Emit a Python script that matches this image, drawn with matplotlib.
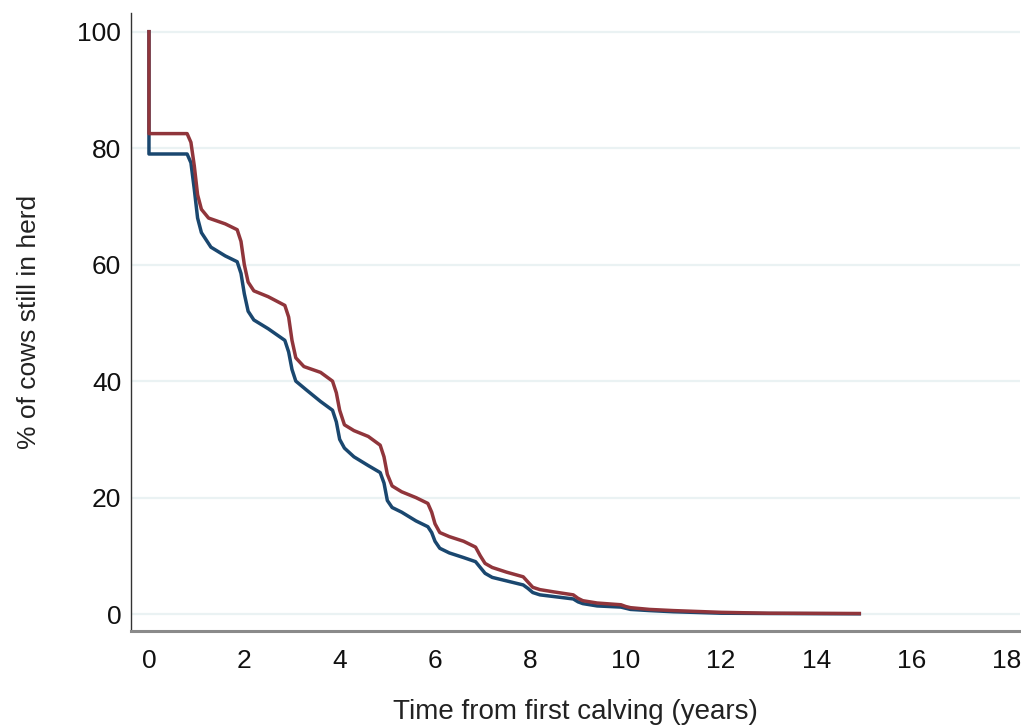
import matplotlib
matplotlib.use("Agg")
import matplotlib.pyplot as plt

plt.rcParams['font.family'] = ['Liberation Sans', 'DejaVu Sans']

# Survival curves (time in years, % still in herd)
red_t = [0, 0, 0.8, 0.88, 0.95, 1.02, 1.1, 1.25, 1.6, 1.85, 1.93, 2.0, 2.08, 2.2, 2.5, 2.85, 2.93, 3.0, 3.08,
         3.25, 3.6, 3.85, 3.93, 4.0, 4.1, 4.3, 4.6, 4.85, 4.93, 5.0, 5.1, 5.3, 5.6, 5.85, 5.93, 6.0, 6.1,
         6.3, 6.6, 6.85, 6.95, 7.05, 7.2, 7.5, 7.85, 7.95, 8.05, 8.2, 8.5, 8.9, 9.0, 9.1, 9.4, 9.9, 10.0,
         10.1, 10.5, 11, 12, 13, 14.9]
red_s = [100, 82.5, 82.5, 81, 77, 72, 69.5, 68, 67, 66, 64, 60, 57, 55.5, 54.5, 53, 51, 47, 44,
         42.5, 41.5, 40, 38, 35, 32.5, 31.5, 30.5, 29, 27, 24, 22, 21, 20, 19, 17.5, 15.5, 14,
         13.3, 12.5, 11.5, 10, 8.7, 8, 7.2, 6.4, 5.5, 4.6, 4.2, 3.8, 3.3, 2.7, 2.3, 1.9, 1.6, 1.3,
         1.1, 0.8, 0.6, 0.3, 0.15, 0.1]

blue_t = [0, 0, 0.8, 0.88, 0.95, 1.02, 1.1, 1.3, 1.6, 1.85, 1.93, 2.0, 2.08, 2.2, 2.5, 2.85, 2.93, 3.0, 3.08,
          3.3, 3.6, 3.85, 3.93, 4.0, 4.1, 4.3, 4.6, 4.85, 4.93, 5.0, 5.1, 5.3, 5.6, 5.85, 5.93, 6.0, 6.1,
          6.3, 6.6, 6.85, 6.95, 7.05, 7.2, 7.5, 7.85, 7.95, 8.05, 8.2, 8.5, 8.9, 9.0, 9.1, 9.4, 9.9, 10.0,
          10.1, 10.5, 11, 12, 13, 14.9]
blue_s = [100, 79, 79, 77.5, 73, 68, 65.5, 63, 61.5, 60.5, 58.5, 55, 52, 50.5, 49, 47, 45, 42, 40,
          38.5, 36.5, 35, 33, 30, 28.5, 27, 25.5, 24.3, 22.5, 19.5, 18.3, 17.5, 16, 15, 14, 12.5, 11.3,
          10.5, 9.7, 9, 8, 7, 6.3, 5.7, 5, 4.4, 3.7, 3.3, 3, 2.6, 2.1, 1.8, 1.4, 1.2, 1.0,
          0.8, 0.6, 0.4, 0.15, 0.1, 0.05]

x_ticks = [0, 2, 4, 6, 8, 10, 12, 14, 16, 18]
y_ticks = [0, 20, 40, 60, 80, 100]

navy = '#1a476f'
maroon = '#90353b'
grid_col = '#eaf2f3'

fig = plt.figure(figsize=(10.21, 7.25), dpi=100)
ax = fig.add_axes([0.1283, 0.1297, 0.8707, 0.8523])

for y in y_ticks:
    ax.axhline(y, color=grid_col, lw=1.6, zorder=0)

ax.plot(blue_t, blue_s, color=navy, lw=2.5, zorder=2, solid_joinstyle='round')
ax.plot(red_t, red_s, color=maroon, lw=2.5, zorder=3, solid_joinstyle='round')

ax.set_xlim(-0.377, 18.27)
ax.set_ylim(-2.9, 103.2)
ax.set_xticks(x_ticks)
ax.set_yticks(y_ticks)
ax.tick_params(axis='both', length=0, labelsize=19, colors='#111111')
ax.tick_params(axis='x', pad=13)
ax.tick_params(axis='y', pad=7)

for s in ['top', 'right']:
    ax.spines[s].set_visible(False)
ax.spines['left'].set_color('#333333')
ax.spines['left'].set_linewidth(1.0)
ax.spines['bottom'].set_color('#8a8a8a')
ax.spines['bottom'].set_linewidth(2.2)

ax.set_xlabel('Time from first calving (years)', fontsize=20, color='#222222', labelpad=19)
ax.set_ylabel('% of cows still in herd', fontsize=19, color='#222222', labelpad=26)

fig.savefig('out.png', dpi=100)
